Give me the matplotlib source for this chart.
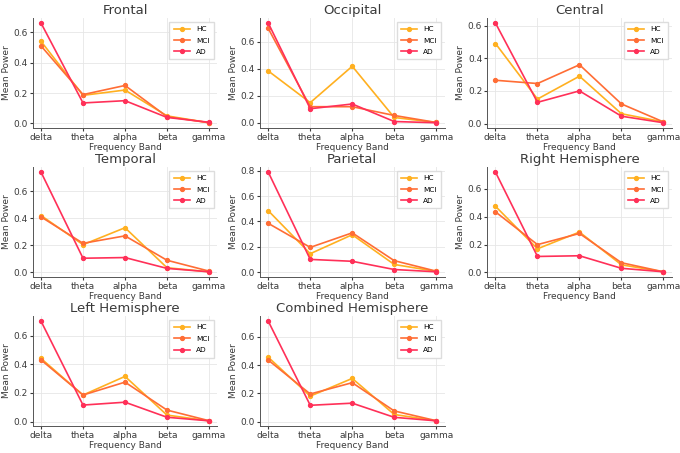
import matplotlib

matplotlib.use("Agg")
import matplotlib.pyplot as plt

BANDS = ["delta", "theta", "alpha", "beta", "gamma"]
GROUPS = ["HC", "MCI", "AD"]
COLORS = {"HC": "#FFB020", "MCI": "#FF6D35", "AD": "#FF3058"}

REGIONS = [
    "Frontal", "Occipital", "Central",
    "Temporal", "Parietal", "Right Hemisphere",
    "Left Hemisphere", "Combined Hemisphere",
]

hc = [
    [0.54, 0.185, 0.22, 0.05, 0.005],
    [0.385, 0.15, 0.42, 0.04, 0.003],
    [0.49, 0.15, 0.29, 0.06, 0.01],
    [0.42, 0.205, 0.33, 0.035, 0.005],
    [0.485, 0.145, 0.295, 0.06, 0.005],
    [0.475, 0.17, 0.29, 0.055, 0.005],
    [0.44, 0.185, 0.315, 0.045, 0.005],
    [0.455, 0.18, 0.305, 0.05, 0.005],
]
mci = [
    [0.51, 0.19, 0.25, 0.045, 0.005],
    [0.70, 0.12, 0.12, 0.055, 0.003],
    [0.265, 0.245, 0.36, 0.12, 0.01],
    [0.41, 0.215, 0.27, 0.09, 0.01],
    [0.385, 0.195, 0.31, 0.09, 0.007],
    [0.435, 0.20, 0.28, 0.07, 0.005],
    [0.43, 0.185, 0.275, 0.08, 0.006],
    [0.435, 0.195, 0.275, 0.075, 0.006],
]
ad = [
    [0.66, 0.135, 0.15, 0.04, 0.008],
    [0.74, 0.105, 0.14, 0.01, 0.001],
    [0.615, 0.13, 0.20, 0.045, 0.005],
    [0.74, 0.105, 0.11, 0.03, 0.005],
    [0.79, 0.10, 0.085, 0.02, 0.002],
    [0.72, 0.115, 0.12, 0.03, 0.005],
    [0.70, 0.115, 0.135, 0.03, 0.005],
    [0.71, 0.115, 0.13, 0.03, 0.005],
]

TEXT = "#3a3a3a"

fig, axes = plt.subplots(3, 3, figsize=(6.8, 4.53), dpi=100)
fig.subplots_adjust(left=0.048, right=0.988, top=0.96, bottom=0.06,
                    wspace=0.23, hspace=0.36)

for i, ax in enumerate(axes.flat):
    if i >= len(REGIONS):
        ax.axis("off")
        continue
    for name, data in zip(GROUPS, (hc, mci, ad)):
        ax.plot(BANDS, data[i], marker="o", markersize=2.8, linewidth=1.2,
                color=COLORS[name], label=name)
    ax.set_title(REGIONS[i], fontsize=9.5, color=TEXT, pad=3)
    ax.set_xlabel("Frequency Band", fontsize=6.5, color=TEXT, labelpad=1)
    ax.set_ylabel("Mean Power", fontsize=6.5, color=TEXT, labelpad=2)
    ax.tick_params(labelsize=6.5, colors=TEXT, length=2, pad=1.5)
    ax.grid(True, color="#e6e6e6", linewidth=0.6)
    for side in ("top", "right"):
        ax.spines[side].set_visible(False)
    for side in ("left", "bottom"):
        ax.spines[side].set_color("#555555")
        ax.spines[side].set_linewidth(0.7)
    ax.legend(fontsize=5.3, loc="upper right", handlelength=2.2,
              borderpad=0.6, labelspacing=0.7, framealpha=1,
              edgecolor="#dddddd", fancybox=False)

fig.savefig("out.png", dpi=100)
